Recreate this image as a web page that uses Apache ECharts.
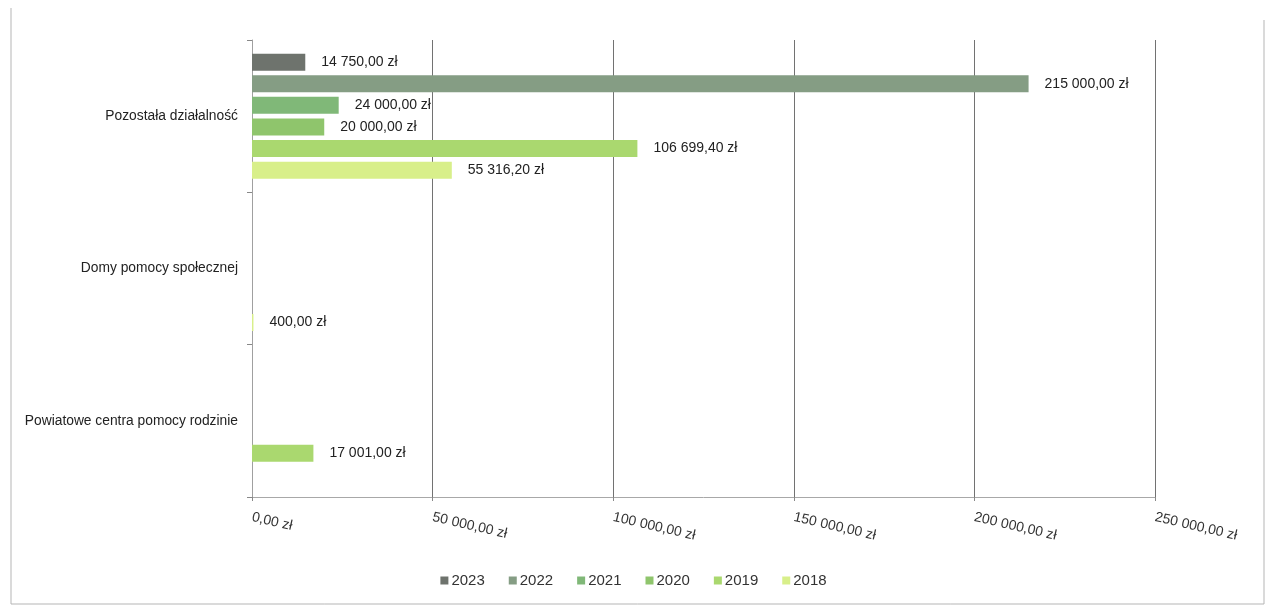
<!DOCTYPE html>
<html lang="pl">
<head>
<meta charset="utf-8">
<title>Wydatki</title>
<script src="https://cdn.jsdelivr.net/npm/echarts@6/dist/echarts.min.js"></script>
<style>
  html, body { margin: 0; padding: 0; background: #ffffff; }
  #chart { width: 1267px; height: 611px; }
</style>
</head>
<body>
<div id="chart"></div>
<script>
// Categories, bottom to top on the category axis
const categories = ['Powiatowe centra pomocy rodzinie', 'Domy pomocy społecznej', 'Pozostała działalność'];

// Values per year, in the same order as the categories
const years = ['2023', '2022', '2021', '2020', '2019', '2018'];
const values2023 = [null, null, 14750.00];
const values2022 = [null, null, 215000.00];
const values2021 = [null, null, 24000.00];
const values2020 = [null, null, 20000.00];
const values2019 = [17001.00, null, 106699.40];
const values2018 = [null, 400.00, 55316.20];

const xTicks = { min: 0, max: 250000, interval: 50000 };

const colors = ['#6e736d', '#859d84', '#80b878', '#8fc56c', '#aad86f', '#d8ef8a'];

// Polish currency format: "14 750,00 zł"
function zl(v) {
  const parts = Number(v).toFixed(2).split('.');
  const intPart = parts[0].replace(/\B(?=(\d{3})+(?!\d))/g, ' ');
  return intPart + ',' + parts[1] + ' zł';
}

const seriesValues = [values2023, values2022, values2021, values2020, values2019, values2018];

const chart = echarts.init(document.getElementById('chart'), null, { renderer: 'canvas' });

chart.setOption({
  animation: false,
  backgroundColor: '#ffffff',
  textStyle: { fontFamily: '"Liberation Sans", Arial, sans-serif' },
  color: colors,
  grid: { left: 252, right: 112, top: 40, bottom: 114, containLabel: false },
  legend: {
    data: years,
    left: 'center',
    top: 568,
    icon: 'rect',
    itemWidth: 8,
    itemHeight: 8,
    itemGap: 24,
    textStyle: { fontSize: 15, color: '#333', fontFamily: '"Liberation Sans", Arial, sans-serif', padding: [0, 0, 0, -2] }
  },
  xAxis: {
    type: 'value',
    min: xTicks.min,
    max: xTicks.max,
    interval: xTicks.interval,
    axisLine: { show: true, lineStyle: { color: '#a8a8a8', width: 1 } },
    axisTick: { show: true, length: 4, lineStyle: { color: '#888' } },
    splitLine: { show: true, lineStyle: { color: '#727272', width: 1 } },
    axisLabel: {
      formatter: zl,
      rotate: -13,
      margin: 20,
      fontSize: 14,
      color: '#333'
    }
  },
  yAxis: {
    type: 'category',
    data: categories,
    axisLine: { show: true, lineStyle: { color: '#a0a0a0', width: 1 } },
    axisTick: { show: true, length: 5, lineStyle: { color: '#888' } },
    axisLabel: { fontSize: 13.8, color: '#222', margin: 14 },
    splitLine: { show: false }
  },
  series: years.map((y, i) => ({
    name: y,
    type: 'bar',
    data: seriesValues[i],
    barWidth: 17,
    barGap: '27%',
    itemStyle: { color: colors[i] },
    label: {
      show: true,
      position: 'right',
      distance: 16,
      fontSize: 14,
      color: '#222',
      formatter: p => (p.value == null ? '' : zl(p.value))
    }
  })),
  graphic: [
    {
      type: 'polyline',
      silent: true,
      shape: { points: [[11, 8], [11, 604], [1264, 604], [1264, 20]] },
      style: { stroke: '#b5b5b5', lineWidth: 1, fill: null }
    }
  ]
});
</script>
</body>
</html>
